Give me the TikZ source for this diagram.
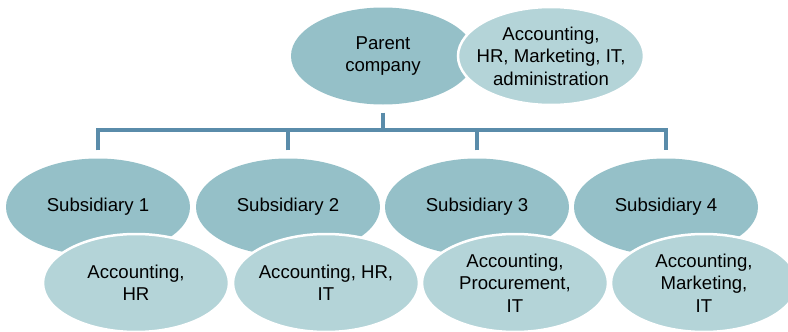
\documentclass[tikz,border=0pt]{standalone}
\usepackage{fontspec}
\setmainfont{Liberation Sans}
\usetikzlibrary{shapes.geometric,calc}
\definecolor{darkel}{RGB}{149,192,200}
\definecolor{lightel}{RGB}{180,212,216}
\definecolor{linec}{RGB}{90,140,170}
\tikzset{
  mainel/.style={ellipse,fill=darkel,minimum width=184pt,minimum height=97pt,inner sep=0pt},
  detel/.style={ellipse,fill=lightel,draw=white,line width=2.5pt,minimum width=186pt,minimum height=98pt,inner sep=0pt},
  txt/.style={inner sep=0pt,align=center,font=\fontsize{18.6}{22.5}\selectfont}
}
\tikzset{conn/.style={draw=linec,line width=4pt}}
\begin{document}
\begin{tikzpicture}[x=1pt,y=-1pt]
\useasboundingbox (0,0) rectangle (788,332);
\begin{scope}
\clip (0,0) rectangle (788,332);
\node[mainel] (p) at (383,56) {};
\node[txt] (pt) at (p.center) {Parent\\company};
\node[detel] (pd) at (551,56) {};
\node[txt] (pdt) at (pd.center) {Accounting,\\HR, Marketing, IT,\\administration};
\node[mainel] (s1) at (98,207) {};
\node[txt] (s1t) at (s1.center) {Subsidiary 1};
\node[detel] (d1) at (136,283) {};
\node[txt] (d1t) at (d1.center) {Accounting,\\HR};
\node[mainel] (s2) at (288,207) {};
\node[txt] (s2t) at (s2.center) {Subsidiary 2};
\node[detel] (d2) at (326,283) {};
\node[txt] (d2t) at (d2.center) {Accounting, HR,\\IT};
\node[mainel] (s3) at (477,207) {};
\node[txt] (s3t) at (s3.center) {Subsidiary 3};
\node[detel] (d3) at (515,283) {};
\node[txt] (d3t) at (d3.center) {Accounting,\\Procurement,\\IT};
\node[mainel] (s4) at (666,207) {};
\node[txt] (s4t) at (s4.center) {Subsidiary 4};
\node[detel] (d4) at (704,283) {};
\node[txt] (d4t) at (d4.center) {Accounting,\\Marketing,\\IT};
\end{scope}
\coordinate (bar) at (0,130);
\draw[conn] ($(p.south)+(0,8)$) -- (p.south |- bar);
\draw[conn] ($(s1.north)+(0,-8)$) -- (s1.north |- bar) -- (s4.north |- bar) -- ($(s4.north)+(0,-8)$);
\draw[conn] ($(s2.north)+(0,-8)$) -- (s2.north |- bar);
\draw[conn] ($(s3.north)+(0,-8)$) -- (s3.north |- bar);
\end{tikzpicture}
\end{document}
